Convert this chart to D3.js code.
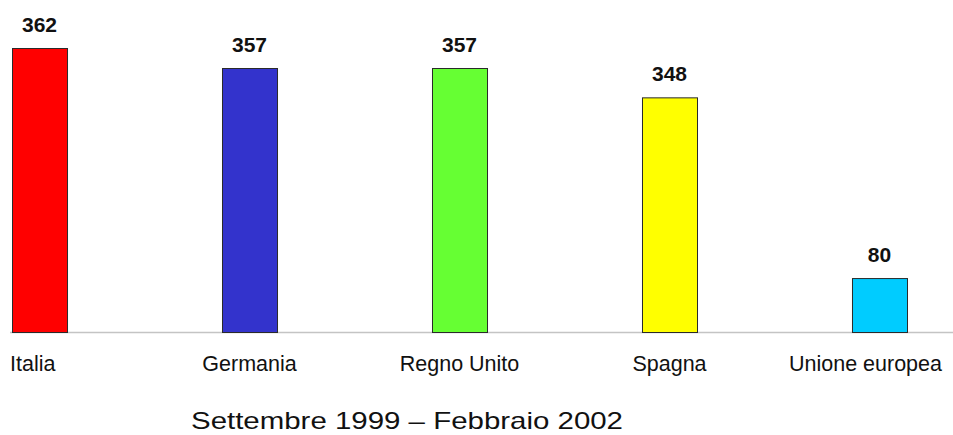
<!DOCTYPE html>
<html>
<head>
<meta charset="utf-8">
<script src="https://cdn.jsdelivr.net/npm/d3@7"></script>
<style>
  body { margin: 0; background: #fff; }
  text { font-family: "Liberation Sans", Arial, sans-serif; }
</style>
</head>
<body>
<svg id="chart" width="953" height="435"></svg>
<script>
const paesi = ["Italia", "Germania", "Regno Unito", "Spagna", "Unione europea"];
const valori = [362, 357, 357, 348, 80];
const colori = ["#ff0000", "#3333cc", "#66ff33", "#ffff00", "#00ccff"];
const sottotitolo = "Settembre 1999 – Febbraio 2002";

const width = 953, height = 435;
const base_y = 332, top_y = 48;

let svg = d3.select("#chart");

let x = d3.scaleBand()
    .domain(paesi)
    .range([12, 907])
    .paddingInner(0.738)
    .paddingOuter(0);

// broken value axis: the original chart stretches the top of the range
let y = d3.scaleLinear()
    .domain([0, 350, d3.max(valori)])
    .range([base_y, 96, top_y]);

let dati = paesi.map((p, i) => ({paese: p, valore: valori[i], colore: colori[i]}));

svg.append("line")
    .attr("x1", 10)
    .attr("x2", width)
    .attr("y1", base_y + 0.5)
    .attr("y2", base_y + 0.5)
    .attr("stroke", "#c4c4c4")
    .attr("stroke-width", 1.5);

svg.append("g")
    .attr("class", "barre")
    .selectAll("rect")
    .data(dati)
    .join("rect")
    .attr("x", d => x(d.paese) + 0.5)
    .attr("y", d => y(d.valore) + 0.5)
    .attr("width", x.bandwidth())
    .attr("height", d => base_y - y(d.valore))
    .attr("fill", d => d.colore)
    .attr("stroke", "#2a2a2a")
    .attr("stroke-width", 1);

svg.append("g")
    .attr("class", "valori")
    .selectAll("text")
    .data(dati)
    .join("text")
    .attr("x", d => x(d.paese) + x.bandwidth() / 2)
    .attr("y", d => y(d.valore) - 16)
    .attr("text-anchor", "middle")
    .attr("font-size", 21)
    .attr("font-weight", "bold")
    .attr("fill", "#111")
    .text(d => d.valore);

let etichette = svg.append("g")
    .attr("class", "paesi")
    .selectAll("text")
    .data(dati)
    .join("text")
    .attr("y", 371)
    .attr("font-size", 21.5)
    .attr("fill", "#111")
    .text(d => d.paese);

// first label sits at the left edge, last one against the right edge, others centred
etichette.each(function(d, i){
    let w = this.getComputedTextLength();
    let sx = x(d.paese) + x.bandwidth() / 2 - w / 2;
    if (i == 0) sx = 10;
    if (sx + w > 942) sx = 942 - w;
    d3.select(this).attr("x", sx);
});

svg.append("text")
    .attr("x", 191)
    .attr("y", 429)
    .attr("font-size", 24)
    .attr("fill", "#111")
    .attr("textLength", 432)
    .attr("lengthAdjust", "spacingAndGlyphs")
    .text(sottotitolo);
</script>
</body>
</html>
